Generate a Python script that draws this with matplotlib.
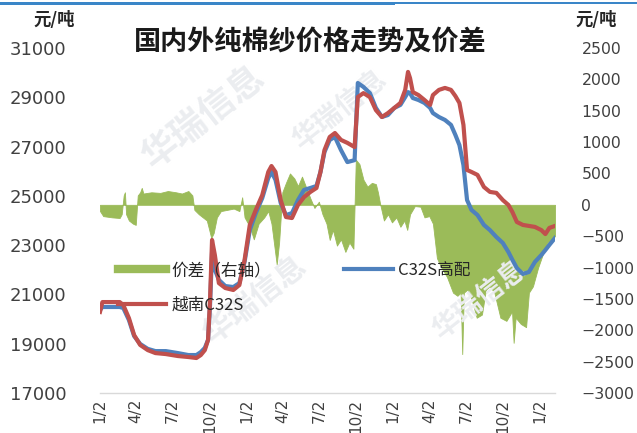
import matplotlib
matplotlib.use("Agg")
import matplotlib.pyplot as plt
from matplotlib.patches import Rectangle
from matplotlib.lines import Line2D
import pandas as pd

plt.rcParams['font.family'] = ['DejaVu Sans', 'Noto Sans CJK SC']

title = "国内外纯棉纱价格走势及价差"
unit_label = "元/吨"
label_spread = "价差（右轴）"
label_domestic = "C32S高配"
label_vietnam = "越南C32S"
watermark = "华瑞信息"

line_dates = [
    "2014-01-02", "2014-01-08", "2014-02-20", "2014-03-01", "2014-03-15", "2014-03-28",
    "2014-04-12", "2014-05-01", "2014-05-20", "2014-06-15", "2014-07-15", "2014-08-10",
    "2014-08-30", "2014-09-10", "2014-09-20", "2014-09-28", "2014-10-03", "2014-10-08",
    "2014-10-15", "2014-10-25", "2014-11-10", "2014-11-30", "2014-12-15", "2014-12-28",
    "2015-01-10", "2015-01-25", "2015-02-10", "2015-02-25", "2015-03-05", "2015-03-15",
    "2015-03-28", "2015-04-10", "2015-04-25", "2015-05-10", "2015-05-25", "2015-06-10",
    "2015-06-25", "2015-07-05", "2015-07-15", "2015-07-28", "2015-08-10", "2015-08-25",
    "2015-09-10", "2015-09-28", "2015-10-06", "2015-10-20", "2015-11-05", "2015-11-20",
    "2015-12-05", "2015-12-20", "2016-01-05", "2016-01-20", "2016-02-01", "2016-02-08",
    "2016-02-13", "2016-02-20", "2016-03-05", "2016-03-20", "2016-04-03", "2016-04-10",
    "2016-04-25", "2016-05-10", "2016-05-25", "2016-06-05", "2016-06-15", "2016-06-25",
    "2016-07-04", "2016-07-15", "2016-07-30", "2016-08-15", "2016-08-30", "2016-09-15",
    "2016-10-01", "2016-10-15", "2016-10-25", "2016-11-05", "2016-11-20", "2016-12-05",
    "2016-12-20", "2017-01-05", "2017-01-15", "2017-01-25", "2017-02-08",
]

vietnam_c32s = [
    20290, 20690, 20690, 20570, 20040, 19350,
    18950, 18740, 18620, 18580, 18500, 18460,
    18420, 18540, 18740, 19150, 20770, 23210,
    22600, 21460, 21260, 21180, 21380, 22400,
    23820, 24430, 25030, 25970, 26210, 25970,
    24830, 24140, 24100, 24630, 24950, 25160,
    25320, 25970, 26860, 27390, 27550, 27270,
    27150, 26980, 29010, 29170, 29010, 28480,
    28200, 28360, 28570, 28770, 29300, 30030,
    29780, 29210, 29090, 28890, 28690, 29090,
    29300, 29380, 29300, 29050, 28770, 27880,
    26050, 25970, 25850, 25360, 25160, 25120,
    24830, 24630, 24340, 23940, 23820, 23780,
    23740, 23610, 23450, 23700, 23780,
]

domestic_c32s = [
    20370, 20490, 20490, 20450, 19960, 19310,
    18990, 18790, 18700, 18700, 18620, 18540,
    18540, 18660, 18830, 19150, 20570, 22700,
    22000, 21590, 21340, 21300, 21460, 22320,
    23610, 24300, 24910, 25720, 25970, 25650,
    24710, 24220, 24300, 24830, 25240, 25320,
    25400, 25970, 26780, 27270, 27390, 26860,
    26370, 26450, 29580, 29420, 29170, 28570,
    28200, 28280, 28570, 28690, 29010, 29210,
    29170, 28970, 28890, 28770, 28570, 28360,
    28200, 28080, 27880, 27470, 27060, 26250,
    24830, 24430, 24220, 23820, 23610, 23330,
    23090, 22720, 22400, 22070, 21830, 21910,
    22320, 22600, 22800, 23010, 23290,
]

spread_dates = [
    "2014-01-02", "2014-01-10", "2014-02-01", "2014-02-20", "2014-02-25", "2014-03-02",
    "2014-03-05", "2014-03-08", "2014-03-15", "2014-03-25", "2014-04-01", "2014-04-06",
    "2014-04-12", "2014-04-16", "2014-04-20", "2014-05-10", "2014-06-01", "2014-06-20",
    "2014-07-10", "2014-07-25", "2014-08-10", "2014-08-20", "2014-08-25", "2014-09-05",
    "2014-09-15", "2014-09-25", "2014-10-01", "2014-10-06", "2014-10-12", "2014-10-20",
    "2014-10-30", "2014-11-15", "2014-12-01", "2014-12-15", "2014-12-22", "2014-12-28",
    "2015-01-10", "2015-01-20", "2015-02-01", "2015-02-15", "2015-02-25", "2015-03-05",
    "2015-03-12", "2015-03-18", "2015-03-24", "2015-04-01", "2015-04-10", "2015-04-20",
    "2015-05-01", "2015-05-10", "2015-05-20", "2015-06-01", "2015-06-10", "2015-06-20",
    "2015-07-01", "2015-07-10", "2015-07-20", "2015-07-28", "2015-08-05", "2015-08-15",
    "2015-08-25", "2015-09-05", "2015-09-15", "2015-09-25", "2015-10-01", "2015-10-10",
    "2015-10-20", "2015-10-30", "2015-11-10", "2015-11-20", "2015-11-25", "2015-12-01",
    "2015-12-10", "2015-12-20", "2015-12-30", "2016-01-10", "2016-01-20", "2016-01-30",
    "2016-02-06", "2016-02-13", "2016-02-25", "2016-03-10", "2016-03-20", "2016-04-01",
    "2016-04-10", "2016-04-20", "2016-05-01", "2016-05-15", "2016-05-30", "2016-06-10",
    "2016-06-18", "2016-06-22", "2016-06-26", "2016-07-05", "2016-07-15", "2016-07-28",
    "2016-08-10", "2016-08-20", "2016-08-30", "2016-09-10", "2016-09-25", "2016-10-10",
    "2016-10-24", "2016-10-28", "2016-11-02", "2016-11-15", "2016-11-28", "2016-12-05",
    "2016-12-15", "2016-12-28", "2017-01-08", "2017-01-20", "2017-02-08",
]

spread = [
    -100, -180, -200, -210, -150, 150,
    200, -150, -250, -300, -320, 150,
    200, 270, 180, 200, 190, 220,
    200, 180, 220, 150, -80, -150,
    -200, -250, -400, -530, -450, -200,
    -100, -80, -60, -100, 120, -200,
    -350, -550, -300, -200, -100, -300,
    -650, -950, -600, 200, 350, 500,
    420, 300, 450, 250, 100, -50,
    50, -150, -300, -560, -400, -650,
    -550, -750, -600, -700, 720, 650,
    400, 290, 350, 330, 200, 0,
    -250, -150, -280, -200, -350, -250,
    -400, -150, -20, -30, -200, -180,
    -300, -850, -1000, -1150, -1400, -1450,
    -1400, -2380, -1400, -1350, -1500, -1800,
    -1750, -1350, -1300, -1400, -1800, -1850,
    -1700, -2200, -1800, -1900, -1950, -1400,
    -1300, -1000, -800, -600, -500,
]

tick_dates = [
    "2014-01-02", "2014-04-02", "2014-07-02", "2014-10-02",
    "2015-01-02", "2015-04-02", "2015-07-02", "2015-10-02",
    "2016-01-02", "2016-04-02", "2016-07-02", "2016-10-02",
    "2017-01-02",
]
tick_labels = ["1/2", "4/2", "7/2", "10/2", "1/2", "4/2", "7/2", "10/2",
               "1/2", "4/2", "7/2", "10/2", "1/2"]

left_ticks = [17000, 19000, 21000, 23000, 25000, 27000, 29000, 31000]
right_ticks = [-3000, -2500, -2000, -1500, -1000, -500, 0, 500, 1000, 1500, 2000, 2500]

GREEN = "#9BBB59"
BLUE = "#4F81BD"
RED = "#C0504D"
CJK = ["Noto Sans CJK SC", "DejaVu Sans"]

ld = pd.to_datetime(line_dates)
sd = pd.to_datetime(spread_dates)
td = pd.to_datetime(tick_dates)

fig = plt.figure(figsize=(6.37, 4.33), dpi=100)

# faint watermark text
for (wx, wy, ws) in [(205, 118, 26), (340, 110, 20), (255, 300, 22), (480, 300, 20)]:
    fig.text(wx / 637, 1 - wy / 433, watermark, ha="center", va="center", fontsize=ws,
             fontweight="bold", rotation=38, family=CJK, color="#EBEDF0", zorder=0)

ax = fig.add_axes([100 / 637, 1 - 393 / 433, 455 / 637, 345 / 433])
ax.patch.set_visible(False)
ax2 = ax.twinx()
ax2.patch.set_visible(False)

ax2.fill_between(sd, 0, spread, color=GREEN, linewidth=0.6, edgecolor=GREEN)
ax2.set_ylim(-3000, 2500)
ax2.set_yticks(right_ticks)
ax2.set_yticklabels([("−" + str(-t)) if t < 0 else str(t) for t in right_ticks],
                    fontsize=11.3, color="#404040", ha="left")
ax2.tick_params(axis="y", length=0, pad=19)

ax.set_zorder(ax2.get_zorder() + 1)
ax.plot(ld, domestic_c32s, color=BLUE, lw=3.0, solid_joinstyle="round")
ax.plot(ld, vietnam_c32s, color=RED, lw=3.0, solid_joinstyle="round")
ax.set_ylim(17000, 31000)
ax.set_yticks(left_ticks)
ax.set_yticklabels([str(t) for t in left_ticks], fontsize=13, color="#404040")
ax.tick_params(axis="y", length=0, pad=24)
ax.set_xlim(pd.Timestamp("2014-01-02"), pd.Timestamp("2017-02-08"))
ax.set_xticks(td)
ax.set_xticklabels(tick_labels, rotation=90, fontsize=11, color="#404040")
ax.tick_params(axis="x", length=0, pad=4)

for a in (ax, ax2):
    for s in a.spines.values():
        s.set_visible(False)
ax.spines["bottom"].set_visible(True)
ax.spines["bottom"].set_color("#D9D9D9")
ax.spines["bottom"].set_linewidth(1.0)

handles = [
    Line2D([], [], color=GREEN, lw=6),
    Line2D([], [], color=RED, lw=3),
    Line2D([], [], color=BLUE, lw=3),
]
leg = ax.legend(handles, [label_spread, label_vietnam, label_domestic], ncol=2,
                loc="upper left", bbox_to_anchor=(18 / 455, (393 - 262) / 345),
                frameon=False, handlelength=2.9, handletextpad=0.3,
                labelspacing=1.05, columnspacing=4.4, borderpad=0, borderaxespad=0,
                prop={"family": CJK, "size": 12})
for t in leg.get_texts():
    t.set_color("#262626")

fig.text(310 / 637, 1 - 42 / 433, title, ha="center", va="center", fontsize=19.5,
         fontweight="bold", family=CJK, color="#1a1a1a")
fig.text(54 / 637, 1 - 20 / 433, unit_label, ha="center", va="center", fontsize=12.5,
         fontweight="bold", family=CJK, color="#262626")
fig.text(596 / 637, 1 - 20 / 433, unit_label, ha="center", va="center", fontsize=12.5,
         fontweight="bold", family=CJK, color="#262626")

fig.add_artist(Rectangle((0, 1 - 5 / 433), 395 / 637, 3 / 433, transform=fig.transFigure,
                         color="#3A86C8", lw=0))
fig.add_artist(Rectangle((395 / 637, 1 - 4 / 433), 1 - 395 / 637, 2 / 433,
                         transform=fig.transFigure, color="#3A86C8", lw=0))

fig.savefig("out.png", dpi=100)
